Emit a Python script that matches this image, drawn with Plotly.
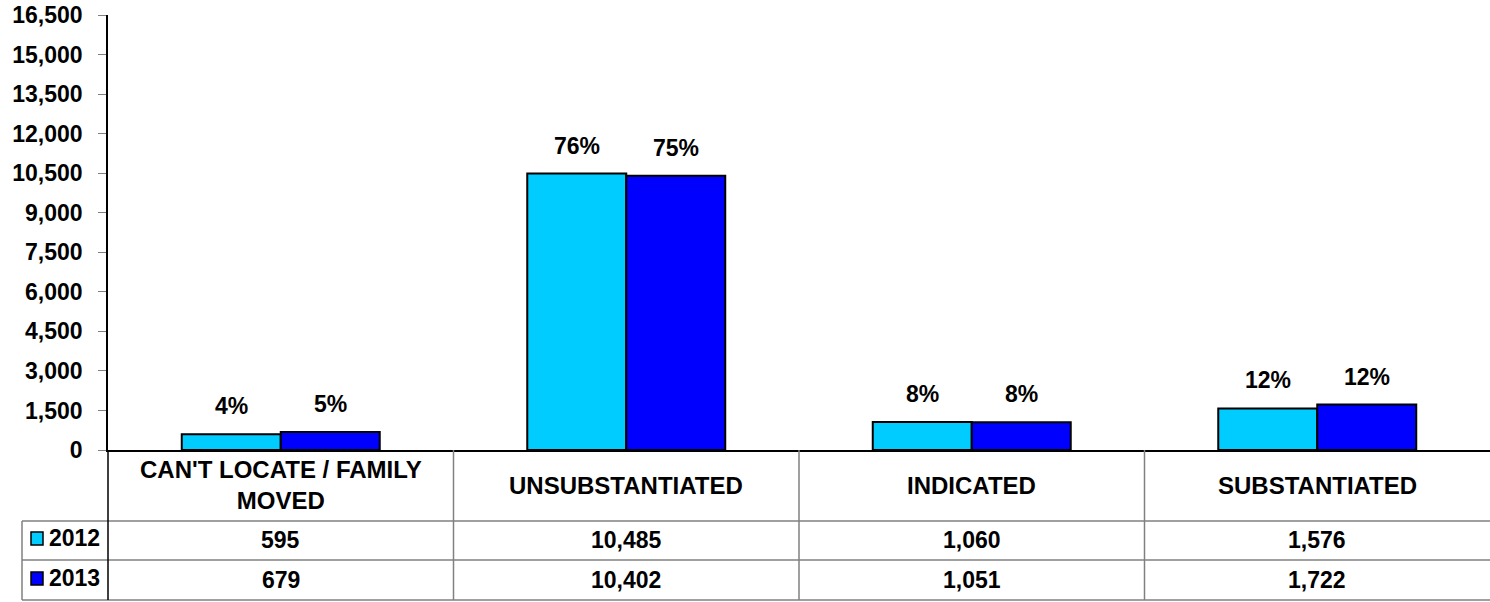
import plotly.graph_objects as go

# data
categories = ["CAN'T LOCATE / FAMILY<br>MOVED", "UNSUBSTANTIATED", "INDICATED", "SUBSTANTIATED"]
years = ["2012", "2013"]
values_2012 = [595, 10485, 1060, 1576]
values_2013 = [679, 10402, 1051, 1722]
pct_2012 = ["4%", "76%", "8%", "12%"]
pct_2013 = ["5%", "75%", "8%", "12%"]
y_ticks = list(range(0, 16501, 1500))

colors = ["#00CCFF", "#0000FF"]
FONT = "Liberation Sans, Arial, sans-serif"
FS = 23
GRID = "#808080"

W, H = 1490, 602
L, R, T, B = 108, 0, 15, 152
plot_w, plot_h = W - L - R, H - T - B


def py(px):
    """pixel row -> paper y"""
    return (H - B - px) / plot_h


def px_x(px):
    return (px - L) / plot_w


bargap = 0.427
series = [values_2012, values_2013]
pcts = [pct_2012, pct_2013]

fig = go.Figure()
for j, (yr, vals) in enumerate(zip(years, series)):
    fig.add_trace(go.Bar(
        x=categories, y=vals, name=yr,
        marker=dict(color=colors[j], line=dict(color="black", width=2)),
        hoverinfo="skip",
    ))

# percentage labels above bars
bw = (1 - bargap) / 2
for j, labels in enumerate(pcts):
    for i, (lab, v) in enumerate(zip(labels, series[j])):
        fig.add_annotation(
            x=i + (j - 0.5) * bw, y=v, xref="x", yref="y",
            text=f"<b>{lab}</b>", showarrow=False, yshift=28,
            xanchor="center", yanchor="middle",
            font=dict(family=FONT, size=FS, color="black"),
        )

# data table below the axis
row_lines = [521, 560, 600]
for yy in row_lines:
    fig.add_shape(type="line", xref="paper", yref="paper",
                  x0=px_x(22), x1=1, y0=py(yy), y1=py(yy),
                  line=dict(color=GRID, width=1.5))
fig.add_shape(type="line", xref="paper", yref="paper",
              x0=px_x(22), x1=px_x(22), y0=py(521), y1=py(600),
              line=dict(color=GRID, width=1.5))
for i in range(len(categories) - 1):
    fig.add_shape(type="line", xref="x", yref="paper",
                  x0=i + 0.5, x1=i + 0.5, y0=0, y1=py(600),
                  line=dict(color=GRID, width=1.5))
fig.add_shape(type="line", xref="paper", yref="paper",
              x0=0, x1=0, y0=0, y1=py(600),
              line=dict(color="black", width=1.5))

for i, cat in enumerate(categories):
    fig.add_annotation(x=i, y=py(485), xref="x", yref="paper",
                       text=f"<b>{cat}</b>", showarrow=False,
                       xanchor="center", yanchor="middle",
                       font=dict(family=FONT, size=24, color="black"))

row_centers = [540, 580]
for j, vals in enumerate(series):
    for i, v in enumerate(vals):
        fig.add_annotation(x=i, y=py(row_centers[j]), xref="x", yref="paper",
                           text=f"<b>{v:,}</b>", showarrow=False,
                           xanchor="center", yanchor="middle",
                           font=dict(family=FONT, size=FS, color="black"))
    # legend key + year label
    fig.add_shape(type="rect", xref="paper", yref="paper",
                  x0=px_x(31), x1=px_x(43),
                  y0=py(row_centers[j] - 8), y1=py(row_centers[j] + 5),
                  fillcolor=colors[j], line=dict(color="black", width=1.5))
    fig.add_annotation(x=px_x(47), y=py(row_centers[j] - 2), xref="paper", yref="paper",
                       xanchor="left", yanchor="middle",
                       text=f"<b>{years[j]}</b>", showarrow=False,
                       font=dict(family=FONT, size=FS, color="black"))

fig.update_layout(
    width=W, height=H,
    margin=dict(l=L, r=R, t=T, b=B, pad=0),
    paper_bgcolor="white", plot_bgcolor="white",
    barmode="group", bargap=bargap, bargroupgap=0,
    showlegend=False,
    font=dict(family=FONT, size=FS, color="black"),
)
fig.update_xaxes(
    showticklabels=False, ticks="", showgrid=False,
    showline=True, linecolor="black", linewidth=1.5,
)
fig.update_yaxes(
    range=[0, 16500], tickvals=y_ticks, tickformat=",",
    showgrid=False, zeroline=False,
    showline=True, linecolor="black", linewidth=1.5,
    ticks="outside", ticklen=8, tickcolor=GRID,
    tickfont=dict(family=FONT, size=FS, color="black", weight="bold"),
    ticklabelstandoff=11,
)

fig.write_html(
    "out.html",
    config={"displayModeBar": False},
    post_script="document.body.style.margin='0';document.body.style.overflow='hidden';",
)
